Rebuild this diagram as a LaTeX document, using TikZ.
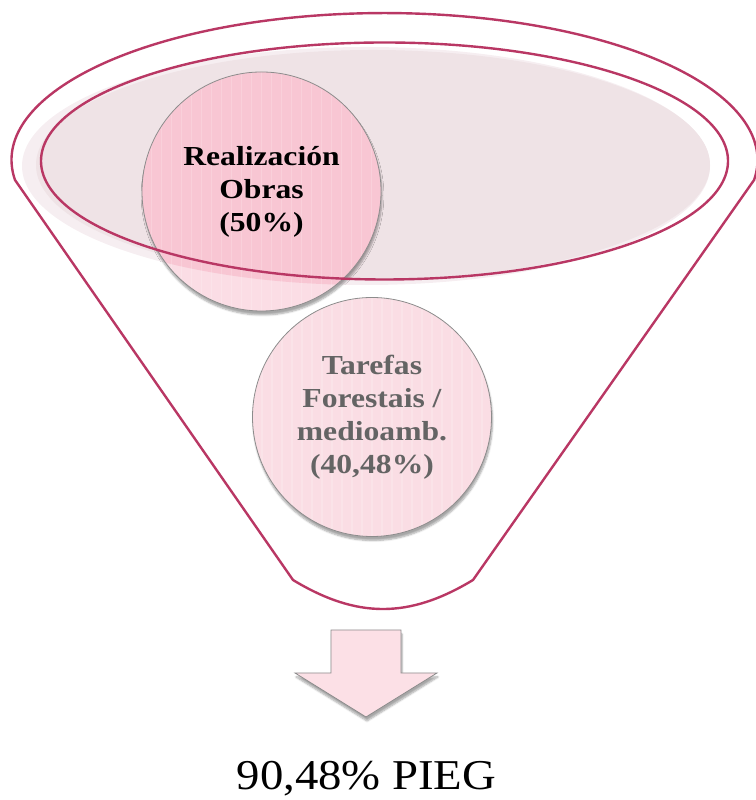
\documentclass[tikz,border=0pt]{standalone}
\usepackage{fontspec}
\setmainfont{Liberation Serif}
\newfontfamily\circfont[FakeStretch=1.15]{Liberation Serif}
\newfontfamily\resfont[FakeStretch=1.1]{Liberation Serif}
\usetikzlibrary{shadows.blur}
\definecolor{rimcol}{RGB}{185,55,100}
\definecolor{ellfill}{RGB}{239,227,230}
\definecolor{elllight}{RGB}{246,238,241}
\definecolor{cone}{RGB}{251,221,229}
\definecolor{conedark}{RGB}{248,198,211}
\definecolor{ctwo}{RGB}{250,221,228}
\definecolor{arrfill}{RGB}{252,224,230}
\definecolor{graytext}{RGB}{100,100,100}
\definecolor{bordergray}{RGB}{140,140,140}
\tikzset{
  rim/.style={draw=rimcol, line width=2.4pt},
  bubble/.style={circle, draw=bordergray, line width=0.8pt, minimum size=239pt, inner sep=0pt,
     align=center, font=\circfont\bfseries\fontsize{27.5}{33}\selectfont,
     blur shadow={shadow xshift=1pt, shadow yshift=-4pt, shadow blur steps=6, shadow opacity=35}},
  arrowsty/.style={draw=bordergray, line width=0.8pt, fill=arrfill,
     blur shadow={shadow xshift=1pt, shadow yshift=-4pt, shadow blur steps=6, shadow opacity=35}}
}
\begin{document}
\begin{tikzpicture}[x=1pt,y=1pt]
\useasboundingbox (0,0) rectangle (755,800);
% rim fill
\fill[elllight] (366,634) ellipse[x radius=344pt, y radius=119pt];
\fill[ellfill] (373,635) ellipse[x radius=337pt, y radius=115pt];
% circle 1
\node[bubble, fill=cone, text=black,
  path picture={
    \fill[conedark] ([shift={(104.5pt,25.5pt)}]path picture bounding box.center) ellipse[x radius=344pt, y radius=119pt];
    \foreach \i in {-120,-110,...,120}
       \draw[white, opacity=.18, line width=1.6pt]
         ([xshift=\i pt]path picture bounding box.north) -- ([xshift=\i pt]path picture bounding box.south);
  }] (c1) at (261.5,608.5) {Realización\\Obras\\(50\%)};
% circle 2
\node[bubble, fill=ctwo, text=graytext,
  path picture={
    \foreach \i in {-120,-110,...,120}
       \draw[white, opacity=.18, line width=1.6pt]
         ([xshift=\i pt]path picture bounding box.north) -- ([xshift=\i pt]path picture bounding box.south);
  }] (c2) at (372,383) {Tarefas\\Forestais /\\medioamb.\\(40,48\%)};
% inner rim stroke
\draw[rim] (384.5,639) ellipse[x radius=343.5pt, y radius=118.5pt];
% funnel outline
\coordinate (fl) at (15,620);
\coordinate (fr) at (754,620);
\coordinate (bl) at (293,220);
\coordinate (br) at (473,220);
\draw[rim, line join=miter] (fl) arc[start angle=187.8, end angle=-7.8, x radius=373pt, y radius=147pt]
  -- (br) .. controls (409,181.3) and (357,181.3) .. (bl) -- cycle;
% arrow
\path[arrowsty] (331,170) -- (401,170) -- (401,127) -- (437,127) -- (366,83) -- (295,127) -- (331,127) -- cycle;
% result text
\node[anchor=base, inner sep=0pt, font=\resfont\fontsize{42.5}{48}\selectfont] (res) at (366.5,10) {90,48\% PIEG};
\end{tikzpicture}
\end{document}
